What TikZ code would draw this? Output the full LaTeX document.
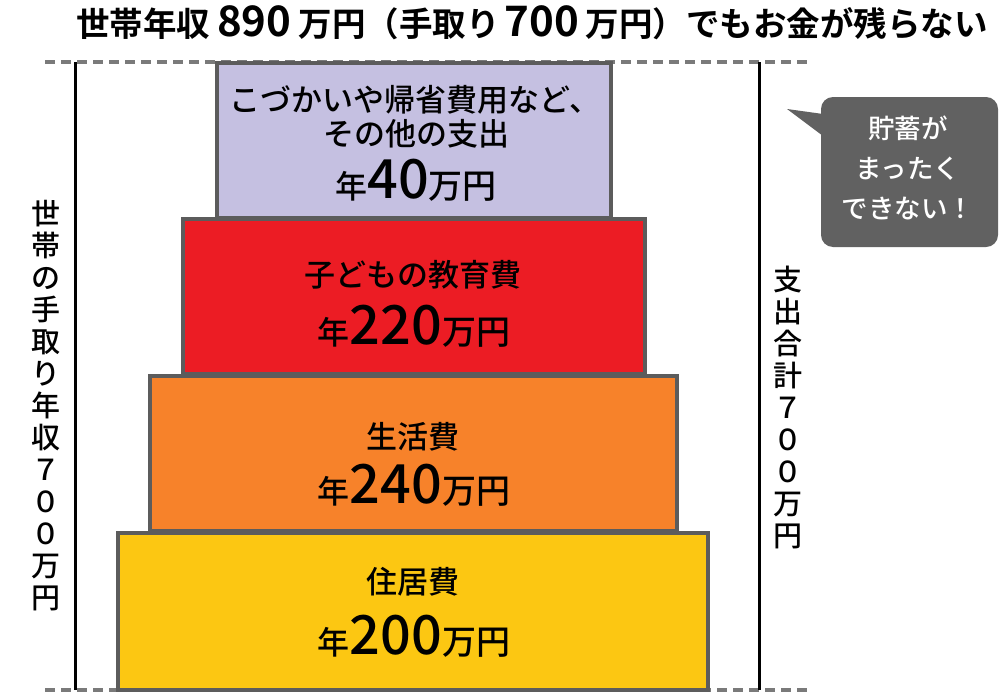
\documentclass[tikz,border=0pt]{standalone}
\usepackage{fontspec}
\setmainfont{Noto Sans CJK JP}[BoldFont={Noto Sans CJK JP Bold}]
\newfontfamily\jpm{Noto Sans CJK JP Medium}
\definecolor{lav}{HTML}{C5C0E1}
\definecolor{redbox}{HTML}{EC1C24}
\definecolor{orangebox}{HTML}{F7822A}
\definecolor{yellowbox}{HTML}{FCC712}
\definecolor{boxgray}{HTML}{5C5C5C}
\definecolor{dashgray}{HTML}{7A7A7A}
\definecolor{callgray}{HTML}{616161}
\newcommand\amount[1]{{\fontsize{32}{32}\selectfont 年}{\fontsize{54}{54}\selectfont #1}{\fontsize{34}{34}\selectfont 万円}}
\begin{document}
\begin{tikzpicture}[x=1pt,y=-1pt,
  box/.style={draw=boxgray, line width=4pt, inner sep=0pt},
  lbl/.style={font=\jpm\fontsize{31}{31}\selectfont, inner sep=0pt},
  amt/.style={font=\jpm, inner sep=0pt, anchor=base},
  vlab/.style={font=\jpm\fontsize{29}{32}\selectfont, align=center, inner sep=0pt},
  dashline/.style={draw=dashgray, line width=3.5pt, dash pattern=on 10pt off 6pt},
  vline/.style={draw=black, line width=3pt},
  callout/.style={fill=callgray, rounded corners=12pt, inner sep=0pt},
  calltext/.style={font=\jpm\fontsize{26.5}{40}\selectfont, text=white, align=center, inner sep=0pt}
]
\useasboundingbox[fill=white] (0,0) rectangle (1000,693);

% title
\node[font=\bfseries\fontsize{33.5}{33.5}\selectfont, inner sep=0pt] (title) at (532,23)
  {世帯年収\hspace{7pt}{\fontsize{42}{42}\selectfont 890}\hspace{7pt}万円（手取り\hspace{5pt}{\fontsize{42}{42}\selectfont 700}\hspace{7pt}万円）でもお金が残らない};

% dashed guide lines
\coordinate (dtl) at (45,62);
\coordinate (dtr) at (807,62);
\coordinate (dbl) at (45,690);
\coordinate (dbr) at (807,690);
\draw[dashline] (dtl) -- (dtr);
\draw[dashline] (dbl) -- (dbr);

% vertical lines
\coordinate (ltop) at (75,62);
\coordinate (lbot) at (75,690);
\coordinate (rtop) at (759,62);
\coordinate (rbot) at (759,690);
\draw[vline] (ltop) -- (lbot);
\draw[vline] (rtop) -- (rbot);

% boxes
\node[box, fill=yellowbox, minimum width=590, minimum height=157] (housing) at (413,611.5) {};
\node[box, fill=orangebox, minimum width=527, minimum height=155] (living) at (413.5,453.5) {};
\node[box, fill=redbox, minimum width=462, minimum height=155] (edu) at (414,296.5) {};
\node[box, fill=lav, minimum width=394, minimum height=155] (other) at (414,140) {};

% box texts
\node[lbl] (o1) at (415,100) {こづかいや帰省費用など、};
\node[lbl] (o2) at (416,134) {その他の支出};
\node[amt] (o3) at (416,198) {\amount{40}};
\node[lbl] (e1) at (413,275) {子どもの教育費};
\node[amt] (e2) at (414,344) {\amount{220}};
\node[lbl] (l1) at (413,437) {生活費};
\node[amt] (l2) at (414,503) {\amount{240}};
\node[lbl] (h1) at (413,582) {住居費};
\node[amt] (h2) at (414,654) {\amount{200}};

% vertical labels
\node[vlab] (income) at (46,406) {世\\帯\\の\\手\\取\\り\\年\\収\\７\\０\\０\\万\\円};
\node[vlab] (spend) at (788,407) {支\\出\\合\\計\\７\\０\\０\\万\\円};

% callout
\node[callout, minimum width=177, minimum height=150] (call) at (909.5,172) {};
\coordinate (tip) at (787,109);
\coordinate (tailA) at (823,114);
\coordinate (tailB) at (823,136);
\fill[callgray] (tailA) -- (tip) -- (tailB) -- cycle;
\node[calltext] (ctext) at (908,168) {貯蓄が\\まったく\\できない！};
\end{tikzpicture}
\end{document}
